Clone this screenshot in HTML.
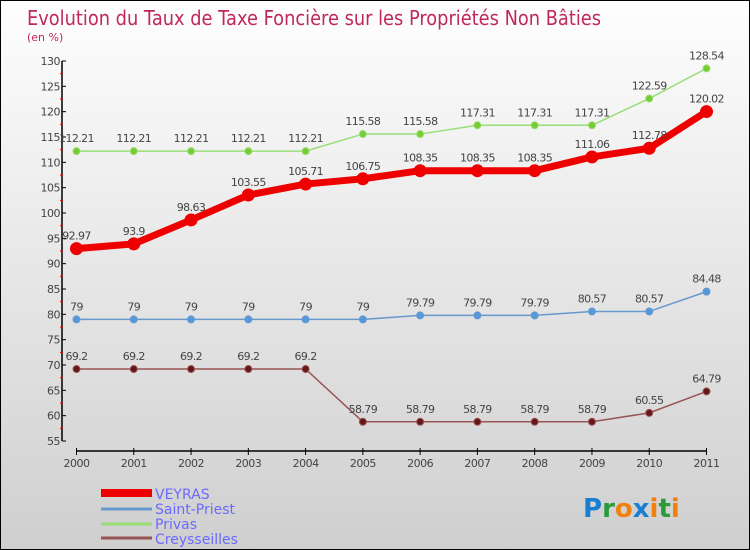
<!DOCTYPE html>
<html><head><meta charset="utf-8"><style>
body{margin:0}
#c{position:relative;width:748px;height:548px;border:1px solid #000;background:linear-gradient(#fefefe,#f0f0f0 30%,#cfcfcf);font-family:"DejaVu Sans","Liberation Sans",sans-serif;overflow:hidden}
text{font-family:"DejaVu Sans","Liberation Sans",sans-serif}
</style></head><body>
<div id="c">
<svg id="s" width="748" height="548">
<text x="26" y="24" font-size="20" fill="#c0285a" textLength="574" lengthAdjust="spacingAndGlyphs">Evolution du Taux de Taxe Foncière sur les Propriétés Non Bâties</text>
<text x="26" y="40" font-size="11" fill="#c0285a">(en %)</text>
<g id="ax"></g><g id="ser"></g>
<g>
<rect x="100" y="488" width="51" height="8" fill="#e00"/>
<text x="154" y="498" font-size="14" fill="#6a6aff">VEYRAS</text>
<line x1="100" x2="151" y1="508" y2="508" stroke="#6699cc" stroke-width="3"/>
<text x="154" y="513" font-size="14" fill="#6a6aff">Saint-Priest</text>
<line x1="100" x2="151" y1="523" y2="523" stroke="#99dd77" stroke-width="3"/>
<text x="154" y="528" font-size="14" fill="#6a6aff">Privas</text>
<line x1="100" x2="151" y1="537" y2="537" stroke="#995555" stroke-width="3"/>
<text x="154" y="543" font-size="14" fill="#6a6aff">Creysseilles</text>
</g>
<g font-size="26" font-weight="bold">
<text x="582" y="516"><tspan fill="#1a7fd0">P</tspan><tspan fill="#2a9a3a">r</tspan><tspan fill="#f08010">o</tspan><tspan fill="#1a7fd0">x</tspan><tspan fill="#f08010">i</tspan><tspan fill="#2a9a3a">t</tspan><tspan fill="#f08010">i</tspan></text>
</g>
</svg>
</div>
<script>
const years=[2000,2001,2002,2003,2004,2005,2006,2007,2008,2009,2010,2011];
const yTicks=[55,60,65,70,75,80,85,90,95,100,105,110,115,120,125,130];
const veyras=[92.97,93.9,98.63,103.55,105.71,106.75,108.35,108.35,108.35,111.06,112.78,120.02];
const saintPriest=[79,79,79,79,79,79,79.79,79.79,79.79,80.57,80.57,84.48];
const privas=[112.21,112.21,112.21,112.21,112.21,115.58,115.58,117.31,117.31,117.31,122.59,128.54];
const creysseilles=[69.2,69.2,69.2,69.2,69.2,58.79,58.79,58.79,58.79,58.79,60.55,64.79];
const NS="http://www.w3.org/2000/svg";
const xs=i=>75.5+i*(705.5-75.5)/(years.length-1);
const ys=v=>440-(v-55)*(380/75);
function mk(t,a,p){const e=document.createElementNS(NS,t);for(const k in a)e.setAttribute(k,a[k]);p.appendChild(e);return e;}
const ax=document.getElementById('ax');
let e=mk('line',{x1:61,x2:61,y1:ys(130),y2:ys(55),stroke:'#000','stroke-width':1.5},ax);


yTicks.forEach(v=>{
 mk('line',{x1:61,x2:65,y1:ys(v),y2:ys(v),stroke:'#000'},ax);
 if(v<130)mk('line',{x1:59,x2:62,y1:ys(v+2.5),y2:ys(v+2.5),stroke:'#e00'},ax);
 const t=mk('text',{x:59,y:ys(v)+4,'font-size':11,fill:'#444','text-anchor':'end','letter-spacing':'-0.5'},ax);
 t.textContent=v;
 
 
});
e=mk('line',{x1:75.5,x2:706,y1:450,y2:450,stroke:'#000','stroke-width':1.5},ax);


years.forEach((y,i)=>{
 mk('line',{x1:xs(i),x2:xs(i),y1:447,y2:454,stroke:'#000'},ax);
 const t=mk('text',{x:xs(i),y:466,'font-size':11,fill:'#444','text-anchor':'middle','letter-spacing':'-0.5'},ax);
 t.textContent=y;
 
 
});
const ser=document.getElementById('ser');
function series(vals,name,col,dot,w,r){
 const g=mk('g',{},ser);
 
 
 mk('polyline',{points:vals.map((v,i)=>xs(i)+','+ys(v)).join(' '),fill:'none',stroke:col,'stroke-width':w,'stroke-linejoin':'round'},g);
 vals.forEach((v,i)=>{
  const c=mk('circle',{cx:xs(i),cy:ys(v),r:r,fill:dot,stroke:col,'stroke-width':1},g);
  
  
  const t=mk('text',{x:xs(i),y:ys(v)-9,'font-size':11,fill:'#444','text-anchor':'middle','letter-spacing':'-0.6'},g);
  t.textContent=String(v);
  
  
 });
}
series(privas,'privas','#99dd77','#77cc33',1.5,3.5);
series(saintPriest,'saint-priest','#6699cc','#5599dd',1.5,3.5);
series(creysseilles,'creysseilles','#995555','#661818',1.5,3.5);
series(veyras,'veyras','#ee0000','#ee0000',7,6);
</script>
</body></html>
